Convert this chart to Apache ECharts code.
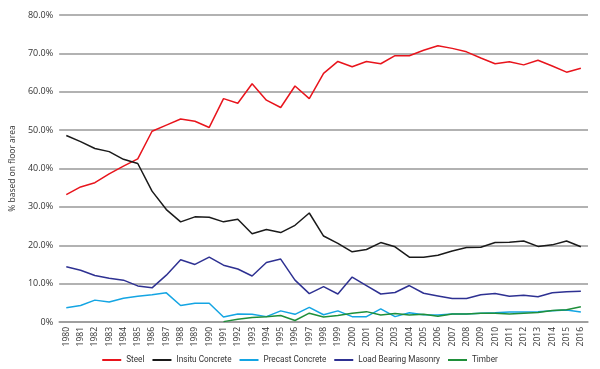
<!DOCTYPE html>
<html><head><meta charset="utf-8">
<script src="https://cdn.jsdelivr.net/npm/echarts@6/dist/echarts.min.js"></script>
<style>html,body{margin:0;padding:0;background:#fff}#c{width:600px;height:369px}</style>
</head><body><div id="c"></div>
<script>
const years = ['1980','1981','1982','1983','1984','1985','1986','1987','1988','1989','1990','1991','1992','1993','1994','1995','1996','1997','1998','1999','2000','2001','2002','2003','2004','2005','2006','2007','2008','2009','2010','2011','2012','2013','2014','2015','2016'];
const steel = [33.2,35.2,36.3,38.6,40.6,42.5,49.7,51.3,52.9,52.3,50.7,58.2,57.0,62.1,57.8,55.9,61.5,58.2,64.8,67.9,66.5,67.9,67.3,69.4,69.4,70.8,72.0,71.3,70.4,68.8,67.3,67.8,67.0,68.2,66.7,65.1,66.1];
const insitu = [48.6,47.0,45.2,44.4,42.4,41.3,34.1,29.3,26.1,27.4,27.3,26.1,26.8,23.0,24.1,23.3,25.2,28.4,22.4,20.5,18.3,18.9,20.7,19.6,16.9,16.9,17.4,18.5,19.4,19.5,20.7,20.8,21.1,19.7,20.1,21.1,19.6];
const precast = [3.7,4.3,5.7,5.2,6.2,6.7,7.1,7.6,4.3,4.9,4.9,1.3,2.1,2.0,1.4,2.9,2.0,3.8,1.9,2.9,1.4,1.4,3.4,1.4,2.4,1.9,1.8,2.1,2.1,2.3,2.4,2.6,2.6,2.7,2.9,3.1,2.6];
const masonry = [14.4,13.5,12.1,11.4,10.9,9.4,8.9,12.2,16.2,15.0,16.9,14.8,13.8,12.0,15.5,16.4,10.9,7.4,9.2,7.3,11.7,9.5,7.3,7.7,9.5,7.5,6.8,6.1,6.1,7.1,7.4,6.7,7.0,6.6,7.6,7.9,8.0];
const timber = [null,null,null,null,null,null,null,null,null,null,null,0.1,0.7,1.2,1.4,1.7,0.4,2.3,1.3,1.7,2.3,2.7,1.8,2.2,1.8,2.0,1.5,2.1,2.1,2.3,2.3,2.1,2.3,2.5,3.0,3.2,4.0];
const seriesNames = ['Steel','Insitu Concrete','Precast Concrete','Load Bearing Masonry','Timber'];
const yTicks = [0,10,20,30,40,50,60,70,80];

const colors = ['#e8141c','#1a1a1a','#14a5e3','#2e3192','#1f8f3a'];
const dataArr = [steel, insitu, precast, masonry, timber];
const FONT = 'Open Sans';
const chart = echarts.init(document.getElementById('c'));
chart.setOption({
  animation:false,
  textStyle:{fontFamily:FONT},
  grid:{left:52,right:12,top:15,bottom:47,containLabel:false},
  legend:{
    top:351,left:'center',icon:'rect',itemWidth:19,itemHeight:2,itemGap:8,
    textStyle:{fontSize:8.2,color:'#333',fontFamily:'Roboto'},
    data:seriesNames
  },
  xAxis:{
    type:'category',data:years,boundaryGap:true,
    axisLine:{show:true,lineStyle:{color:'#999',width:1.5}},
    axisTick:{show:false},
    axisLabel:{rotate:90,fontSize:8.5,color:'#333',interval:0,margin:5,fontFamily:FONT}
  },
  yAxis:{
    type:'value',min:yTicks[0],max:yTicks[yTicks.length-1],interval:10,
    name:'% based on floor area',nameLocation:'middle',nameGap:38,nameRotate:90,
    nameTextStyle:{fontSize:8.5,color:'#333',fontFamily:FONT},
    axisLine:{show:false},axisTick:{show:false},
    axisLabel:{fontSize:9,color:'#333',margin:6,fontFamily:FONT,
      formatter:v=>v===0?'0%':v.toFixed(1)+'%'},
    splitLine:{lineStyle:{color:'#999',width:1.5}}
  },
  series:seriesNames.map((n,i)=>({
    name:n,type:'line',data:dataArr[i],showSymbol:false,symbol:'none',
    lineStyle:{color:colors[i],width:1.5},itemStyle:{color:colors[i]},
    connectNulls:false
  }))
});
</script></body></html>
